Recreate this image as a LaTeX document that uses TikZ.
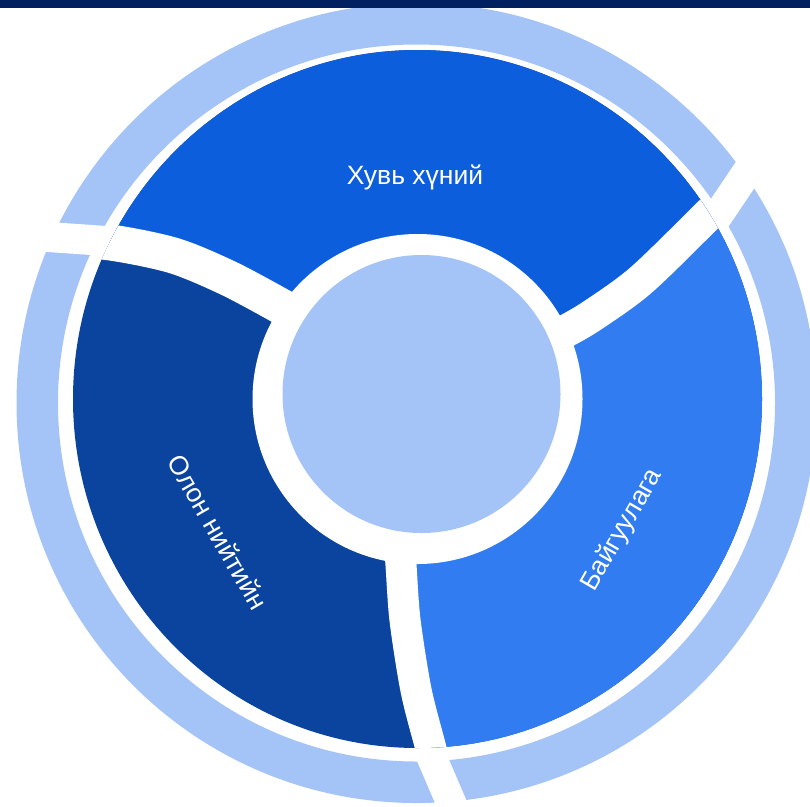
\documentclass[tikz,border=0pt]{standalone}
\usepackage{fontspec}
\setmainfont{Liberation Sans}
\definecolor{navy}{HTML}{00205F}
\definecolor{ringc}{HTML}{A4C3F7}
\definecolor{topc}{HTML}{0D5EDD}
\definecolor{leftc}{HTML}{0A449E}
\definecolor{rightc}{HTML}{317CF0}
\begin{document}
\begin{tikzpicture}[x=1pt,y=-1pt,
  lbl/.style={text=white,font=\fontsize{26.5}{30}\selectfont,inner sep=0pt},
  gapline/.style={white,line width=30pt}]
\useasboundingbox (0,0) rectangle (810,806);
\begin{scope}
\clip (0,0) rectangle (810,806);
% outer ring
\fill[ringc,even odd rule] (416.5,403) circle (400pt) (416.5,403) circle (358.5pt);
\draw[gapline] (5,234) -- (135,243);
\draw[gapline] (770,138) -- (700,242);
\draw[gapline] (420,730) -- (462,828);
% segments
\begin{scope}
\clip (417.5,399) ellipse [x radius=344.5pt, y radius=349pt];
\fill[leftc] (0,0) rectangle (810,806);
\fill[topc] (417,399) -- plot[smooth] coordinates {(284,308) (230,279) (175,256) (114,243) (52,237)}
  -- (-50,100) -- (417,-100) -- (900,60)
  -- plot[smooth] coordinates {(760,163) (705,218) (640,281) (590,317) (564,332)} -- cycle;
\fill[rightc] (417,399) -- plot[smooth] coordinates {(564,332) (590,317) (640,281) (705,218) (760,163)}
  -- (900,60) -- (900,900) -- (470,900)
  -- plot[smooth] coordinates {(442,790) (430,745) (416,690) (405,620) (401,565) (399,540)} -- cycle;
\draw[white,line width=36pt] plot[smooth] coordinates {(284,308) (230,279) (175,256) (114,243) (52,237)};
\draw[white,line width=33pt] plot[smooth] coordinates {(564,332) (590,317) (640,281) (705,218) (760,163)};
\draw[white,line width=31pt] plot[smooth] coordinates {(442,790) (430,745) (416,690) (405,620) (401,565) (399,540)};
\end{scope}
% centre
\fill[white] (417.5,399) circle (165pt);
\fill[ringc] (421.5,394) circle (139pt);
% top bar
\fill[navy] (0,0) rectangle (810,8);
\end{scope}
\node[lbl] (t1) at (415,177) {Хувь хүний};
\node[lbl,rotate=-60] (t2) at (218,532) {Олон нийтийн};
\node[lbl,rotate=60] (t3) at (622,530) {Байгуулага};
\end{tikzpicture}
\end{document}
